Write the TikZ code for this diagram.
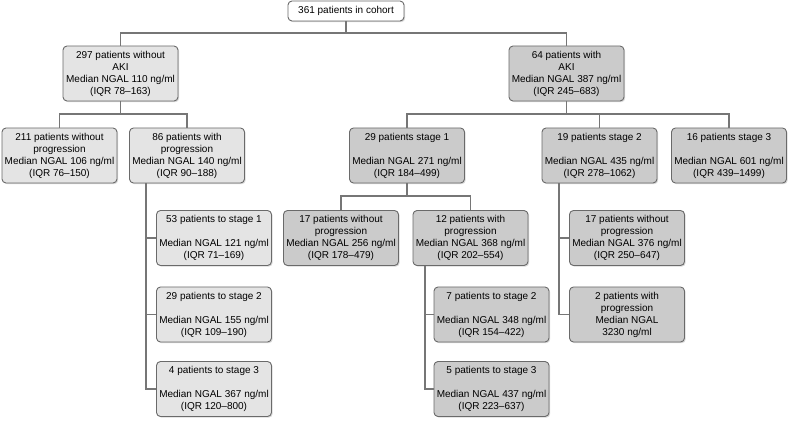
\documentclass[tikz,border=0pt]{standalone}
\usepackage{fontspec}
\setmainfont{Liberation Sans}
\usetikzlibrary{shadows}
\definecolor{bord}{HTML}{6A6A6A}
\definecolor{trait}{HTML}{767676}
\definecolor{fondclair}{HTML}{E4E4E4}
\definecolor{fondfonce}{HTML}{CBCBCB}
\begin{document}
\begin{tikzpicture}[x=1pt,y=-1pt]
\tikzset{boite/.style={draw=bord, line width=0.9pt, rounded corners=4pt, minimum width=115pt, minimum height=55pt, inner sep=1pt, align=center, font=\fontsize{10}{12}\selectfont, drop shadow={shadow xshift=1.2pt, shadow yshift=-1.2pt, opacity=0.3}}}
\tikzset{clair/.style={boite, fill=fondclair}, fonce/.style={boite, fill=fondfonce}}
\tikzset{lien/.style={draw=trait, line width=1.3pt}}
\useasboundingbox (0,0) rectangle (793,422);
\node[boite, fill=white, minimum width=116pt, minimum height=20pt] (N0) at (346,11) {361 patients in cohort};
\node[clair] (N1) at (120.5,73.5) {297 patients without\\AKI\\Median NGAL 110 ng/ml\\(IQR 78–163)};
\node[fonce] (N2) at (566.5,73.5) {64 patients with\\AKI\\Median NGAL 387 ng/ml\\(IQR 245–683)};
\node[clair] (N3) at (59.5,155.5) {211 patients without\\progression\\Median NGAL 106 ng/ml\\(IQR 76–150)};
\node[clair] (N4) at (187,155.5) {86 patients with\\progression\\Median NGAL 140 ng/ml\\(IQR 90–188)};
\node[clair] (N5) at (214,238) {53 patients to stage 1\\ \\Median NGAL 121 ng/ml\\(IQR 71–169)};
\node[clair] (N6) at (214,314.5) {29 patients to stage 2\\ \\Median NGAL 155 ng/ml\\(IQR 109–190)};
\node[clair] (N7) at (214,389) {4 patients to stage 3\\ \\Median NGAL 367 ng/ml\\(IQR 120–800)};
\node[fonce] (N8) at (407,155.5) {29 patients stage 1\\ \\Median NGAL 271 ng/ml\\(IQR 184–499)};
\node[fonce] (N9) at (599.5,155.5) {19 patients stage 2\\ \\Median NGAL 435 ng/ml\\(IQR 278–1062)};
\node[fonce] (N10) at (729,155.5) {16 patients stage 3\\ \\Median NGAL 601 ng/ml\\(IQR 439–1499)};
\node[fonce] (N11) at (341,238) {17 patients without\\progression\\Median NGAL 256 ng/ml\\(IQR 178–479)};
\node[fonce] (N12) at (470.5,238) {12 patients with\\progression\\Median NGAL 368 ng/ml\\(IQR 202–554)};
\node[fonce] (N13) at (491.5,314.5) {7 patients to stage 2\\ \\Median NGAL 348 ng/ml\\(IQR 154–422)};
\node[fonce] (N14) at (491.5,389) {5 patients to stage 3\\ \\Median NGAL 437 ng/ml\\(IQR 223–637)};
\node[fonce] (N15) at (627,238) {17 patients without\\progression\\Median NGAL 376 ng/ml\\(IQR 250–647)};
\node[fonce] (N16) at (627,314.5) {2 patients with\\progression\\Median NGAL\\3230 ng/ml};
\coordinate (C0) at (346,33);
\coordinate (C1) at (120.5,114);
\coordinate (C2) at (566.5,114);
\coordinate (C3) at (407,196);
\coordinate (D1) at ([xshift=-41pt]N4.south);
\coordinate (D2) at ([xshift=-45.5pt]N12.south);
\coordinate (D3) at ([xshift=-40.5pt]N9.south);
\draw[lien] (N0) -- (C0);
\draw[lien] (C0) -| (N1);
\draw[lien] (C0) -| (N2);
\draw[lien] (N1) -- (C1);
\draw[lien] (C1) -| (N3);
\draw[lien] (C1) -| (N4);
\draw[lien] (N2) -- (C2);
\draw[lien] (C2) -| (N8);
\draw[lien] (C2) -| (N9);
\draw[lien] (C2) -| (N10);
\draw[lien] (N8) -- (C3);
\draw[lien] (C3) -| (N11);
\draw[lien] (C3) -| (N12);
\draw[lien] (D1) |- (N5);
\draw[lien] (D1) |- (N6);
\draw[lien] (D1) |- (N7);
\draw[lien] (D2) |- (N13);
\draw[lien] (D2) |- (N14);
\draw[lien] (D3) |- (N15);
\draw[lien] (D3) |- (N16);
\end{tikzpicture}
\end{document}
